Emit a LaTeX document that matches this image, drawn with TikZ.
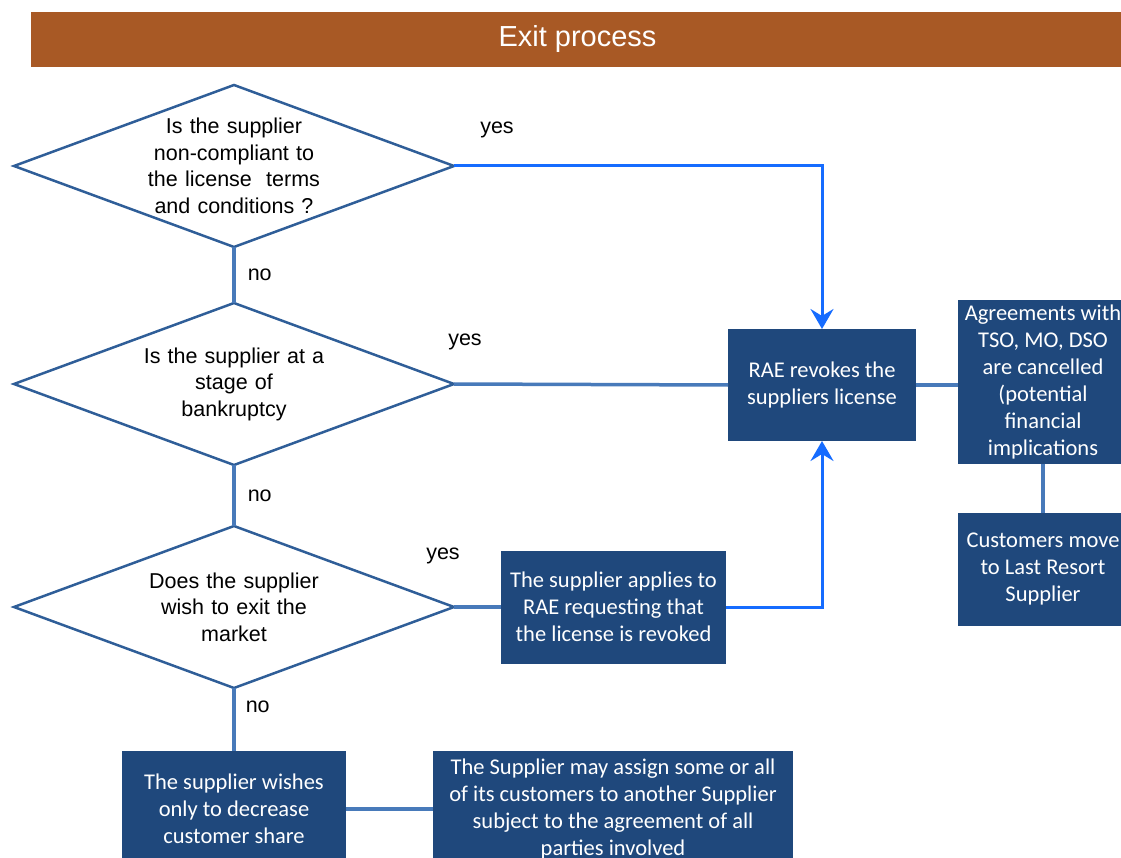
\documentclass[tikz,border=0pt]{standalone}
\usepackage{fontspec}
\setmainfont{Liberation Sans}
\newfontfamily\boxfont{Carlito}
\usetikzlibrary{arrows.meta,positioning,shapes.geometric}

\definecolor{barbrown}{RGB}{168,89,37}
\definecolor{boxblue}{RGB}{31,72,124}
\definecolor{edgeblue}{RGB}{47,94,152}
\definecolor{linkblue}{RGB}{72,122,186}
\definecolor{arrblue}{RGB}{22,108,255}

\tikzset{
    %Define standard arrow tip
    >={Stealth[length=20pt,width=23pt,inset=7pt]},
    %Define style for the title bar
    titlebar/.style={
      rectangle,
      fill=barbrown,
      text=white,
      minimum width=1093pt,
      minimum height=55pt,
      font=\fontsize{29}{34}\selectfont},
    %Define style for questions
    question/.style={
      diamond,
      aspect=2.75,
      draw=edgeblue, line width=2.5pt,
      inner sep=-20pt, outer sep=0pt,
      minimum width=440pt,
      minimum height=162pt,
      text width=200pt,
      align=center,
      font=\fontsize{21.5}{26.5}\selectfont},
    %Define style for boxes
    actor/.style={
      rectangle,
      fill=boxblue,
      text=white,
      inner sep=3pt, outer sep=0pt,
      align=center,
      font=\boxfont\fontsize{22.5}{27}\selectfont},
    % Define line styles
    link/.style={
      draw=linkblue,
      line width=3.5pt},
    arr/.style={
      ->,
      draw=arrblue,
      line width=3pt},
    answer/.style={
      inner sep=0pt,
      font=\fontsize{21.5}{26}\selectfont}
}

\begin{document}
\begin{tikzpicture}[x=1pt, y=1pt]
    \useasboundingbox (0,0) rectangle (1121,-858);
    \node[titlebar] (title) at (577.5,-39.5) {Exit process};

    % questions on the left
    \node[question] (q1) at (234,-166)
      {Is the supplier\\non-compliant to\\the license\ \ terms\\and conditions ?};
    \node[question, below=56pt of q1] (q2)
      {Is the supplier at a\\stage of\\bankruptcy};
    \node[question, below=61pt of q2] (q3)
      {Does the supplier\\wish to exit the\\market};

    \node[actor, below=63pt of q3, minimum width=224pt, minimum height=116pt] (wish)
      {The supplier wishes\\only to decrease\\customer share};
    \node[actor, right=87pt of wish, minimum width=360pt, minimum height=116pt] (assign)
      {The Supplier may assign some or all\\of its customers to another Supplier\\subject to the agreement of all\\parties involved};
    \node[actor, right=47pt of q3, minimum width=225pt, minimum height=113pt] (apply)
      {The supplier applies to\\RAE requesting that\\the license is revoked};

    % revocation and what follows
    \node[actor, minimum width=188pt, minimum height=112pt] (rae) at (822,-385)
      {RAE revokes the\\suppliers license};
    \node[actor, right=42pt of rae, yshift=3pt, minimum width=170pt, minimum height=163pt] (agree)
      {Agreements with\\TSO, MO, DSO\\are cancelled\\(potential\\financial\\implications};
    \node[actor, below=49pt of agree, minimum width=170pt, minimum height=113pt] (cust)
      {Customers move\\to Last Resort\\Supplier};

    \node[answer] (yes1) at ([xshift=43pt, yshift=36pt]q1.east) {yes};
    \node[answer] (yes2) at ([xshift=11pt, yshift=42pt]q2.east) {yes};
    \node[answer] (yes3) at ([xshift=-11pt, yshift=51pt]q3.east) {yes};

    \draw[link] (q1.south) -- node[answer, right=12pt] {no} (q2.north);
    \draw[link] (q2.south) -- node[answer, right=12pt] {no} (q3.north);
    \draw[link] (q3.south) -- node[answer, pos=0.3, right=10pt] {no} (wish.north);
    \draw[link] (wish.east) -- (assign.west);

    \draw[arr] (q1.east) -| (rae.north);
    \draw[link] (q2.east) -- (rae.west);
    \draw[link] (q3.east) -- (apply.west);
    \draw[arr] (apply.east) -| (rae.south);
    \draw[link] (rae.east) -- (rae.east -| agree.west);
    \draw[link] (agree.south) -- (cust.north);
\end{tikzpicture}
\end{document}
